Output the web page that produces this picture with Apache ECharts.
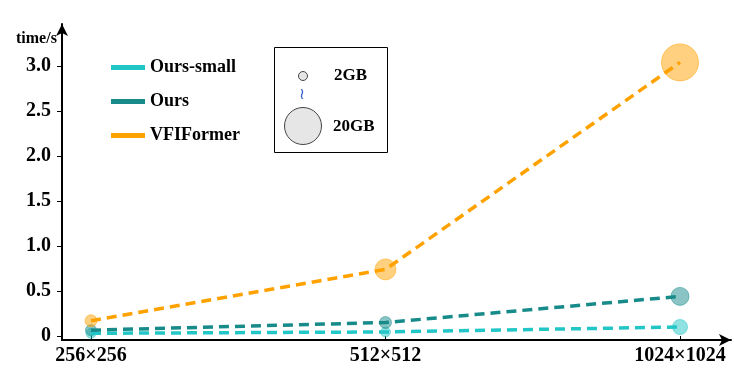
<!DOCTYPE html>
<html><head><meta charset="utf-8">
<script src="https://cdn.jsdelivr.net/npm/echarts@6/dist/echarts.min.js"></script>
<style>html,body{margin:0;padding:0;background:#fff}#c{width:734px;height:382px}</style>
</head><body><div id="c"></div>
<script>
const categories = ['256\u00d7256', '512\u00d7512', '1024\u00d71024'];
const seriesNames = ['Ours-small', 'Ours', 'VFIFormer'];
const timeOursSmall = [0.03, 0.045, 0.10];
const timeOurs = [0.065, 0.15, 0.44];
const timeVFIFormer = [0.17, 0.74, 3.04];
const memOursSmall = [2.6, 2.6, 5.9];
const memOurs = [3.3, 3.9, 7.8];
const memVFIFormer = [3.9, 9.7, 20];
const sizeLegendValues = [2, 20];

const colors = ['#22c6c6', '#178a8a', '#ffa200'];
const font = 'Liberation Serif';
function sz(m) { return 9 + (m - 2) * 28 / 18; }

const times = [timeOursSmall, timeOurs, timeVFIFormer];
const mems = [memOursSmall, memOurs, memVFIFormer];

const series = [];
for (let i = 0; i < 3; i++) {
  series.push({
    name: seriesNames[i] + ' memory', type: 'scatter', xAxisIndex: 1, yAxisIndex: 1,
    data: times[i].map((v, j) => [j, v, mems[i][j]]),
    symbolSize: d => sz(d[2]),
    itemStyle: { color: colors[i], opacity: 0.5, borderColor: colors[i], borderWidth: 1 },
    z: 2, clip: false, silent: true
  });
}
for (let i = 0; i < 3; i++) {
  series.push({
    name: seriesNames[i], type: 'line', xAxisIndex: 1, yAxisIndex: 1,
    data: times[i], symbol: 'none', clip: false,
    lineStyle: { color: colors[i], width: 3.5, type: [10, 6] },
    itemStyle: { color: colors[i] }, z: 3
  });
}

const chart = echarts.init(document.getElementById('c'), null, { renderer: 'canvas' });
const axisBlack = { color: '#000', width: 2 };
chart.setOption({
  animation: false,
  title: { text: 'time/s', left: 11, top: 26, textStyle: { fontFamily: font, fontWeight: 'bold', fontSize: 16, color: '#000' } },
  legend: {
    orient: 'vertical', left: 106, top: 53, itemWidth: 34, itemHeight: 5, itemGap: 15, icon: 'rect',
    data: seriesNames.map((n, i) => ({ name: n, itemStyle: { color: colors[i], opacity: 1 } })),
    textStyle: { fontFamily: font, fontWeight: 'bold', fontSize: 18, lineHeight: 19, color: '#000', padding: [0, 0, 0, 0] }
  },
  grid: [
    { left: 62, right: 3, top: 24, bottom: 42 },
    { left: 91, right: 54, top: 66, bottom: 46 }
  ],
  xAxis: [
    { gridIndex: 0, type: 'value', min: 0, max: 1, axisLine: { show: true, lineStyle: axisBlack, symbol: ['none', 'arrow'], symbolSize: [9, 12] }, axisTick: { show: false }, axisLabel: { show: false }, splitLine: { show: false } },
    { gridIndex: 1, type: 'category', data: categories, boundaryGap: false, offset: 4,
      axisLine: { show: false }, axisTick: { show: true, length: 4, lineStyle: { color: '#000', width: 1 } },
      axisLabel: { fontFamily: font, fontWeight: 'bold', fontSize: 20, color: '#000', margin: 6 }, splitLine: { show: false } }
  ],
  yAxis: [
    { gridIndex: 0, type: 'value', min: 0, max: 1, axisLine: { show: true, lineStyle: axisBlack, symbol: ['none', 'arrow'], symbolSize: [9, 12] }, axisTick: { show: false }, axisLabel: { show: false }, splitLine: { show: false } },
    { gridIndex: 1, type: 'value', min: 0, max: 3.0, interval: 0.5, offset: 29,
      axisLine: { show: false }, axisTick: { show: true, length: 5, lineStyle: { color: '#000', width: 1 } },
      axisLabel: { fontFamily: font, fontWeight: 'bold', fontSize: 20, color: '#000', margin: 11,
        formatter: v => (v === 0 ? '0' : v.toFixed(1)) },
      splitLine: { show: false } }
  ],
  graphic: [
    { type: 'rect', left: 272, top: 45, shape: { width: 113, height: 105 }, style: { fill: 'none', stroke: '#000', lineWidth: 1 }, z: 10 },
    { type: 'circle', shape: { cx: 303, cy: 76, r: sz(sizeLegendValues[0]) / 2 }, style: { fill: '#e6e6e6', stroke: '#444', lineWidth: 1 }, z: 10 },
    { type: 'circle', shape: { cx: 303, cy: 126, r: sz(sizeLegendValues[1]) / 2 }, style: { fill: '#e6e6e6', stroke: '#444', lineWidth: 1 }, z: 10 },
    { type: 'text', x: 302, y: 95, style: { text: '\u2240', fill: '#3a5fcd', font: '16px "DejaVu Sans"', textAlign: 'center', textVerticalAlign: 'middle' }, z: 10 },
    { type: 'text', x: 334, y: 76, style: { text: sizeLegendValues[0] + 'GB', fill: '#000', font: 'bold 17px "Liberation Serif"', textVerticalAlign: 'middle' }, z: 10 },
    { type: 'text', x: 333, y: 127, style: { text: sizeLegendValues[1] + 'GB', fill: '#000', font: 'bold 17px "Liberation Serif"', textVerticalAlign: 'middle' }, z: 10 }
  ],
  series: series
});
</script></body></html>
